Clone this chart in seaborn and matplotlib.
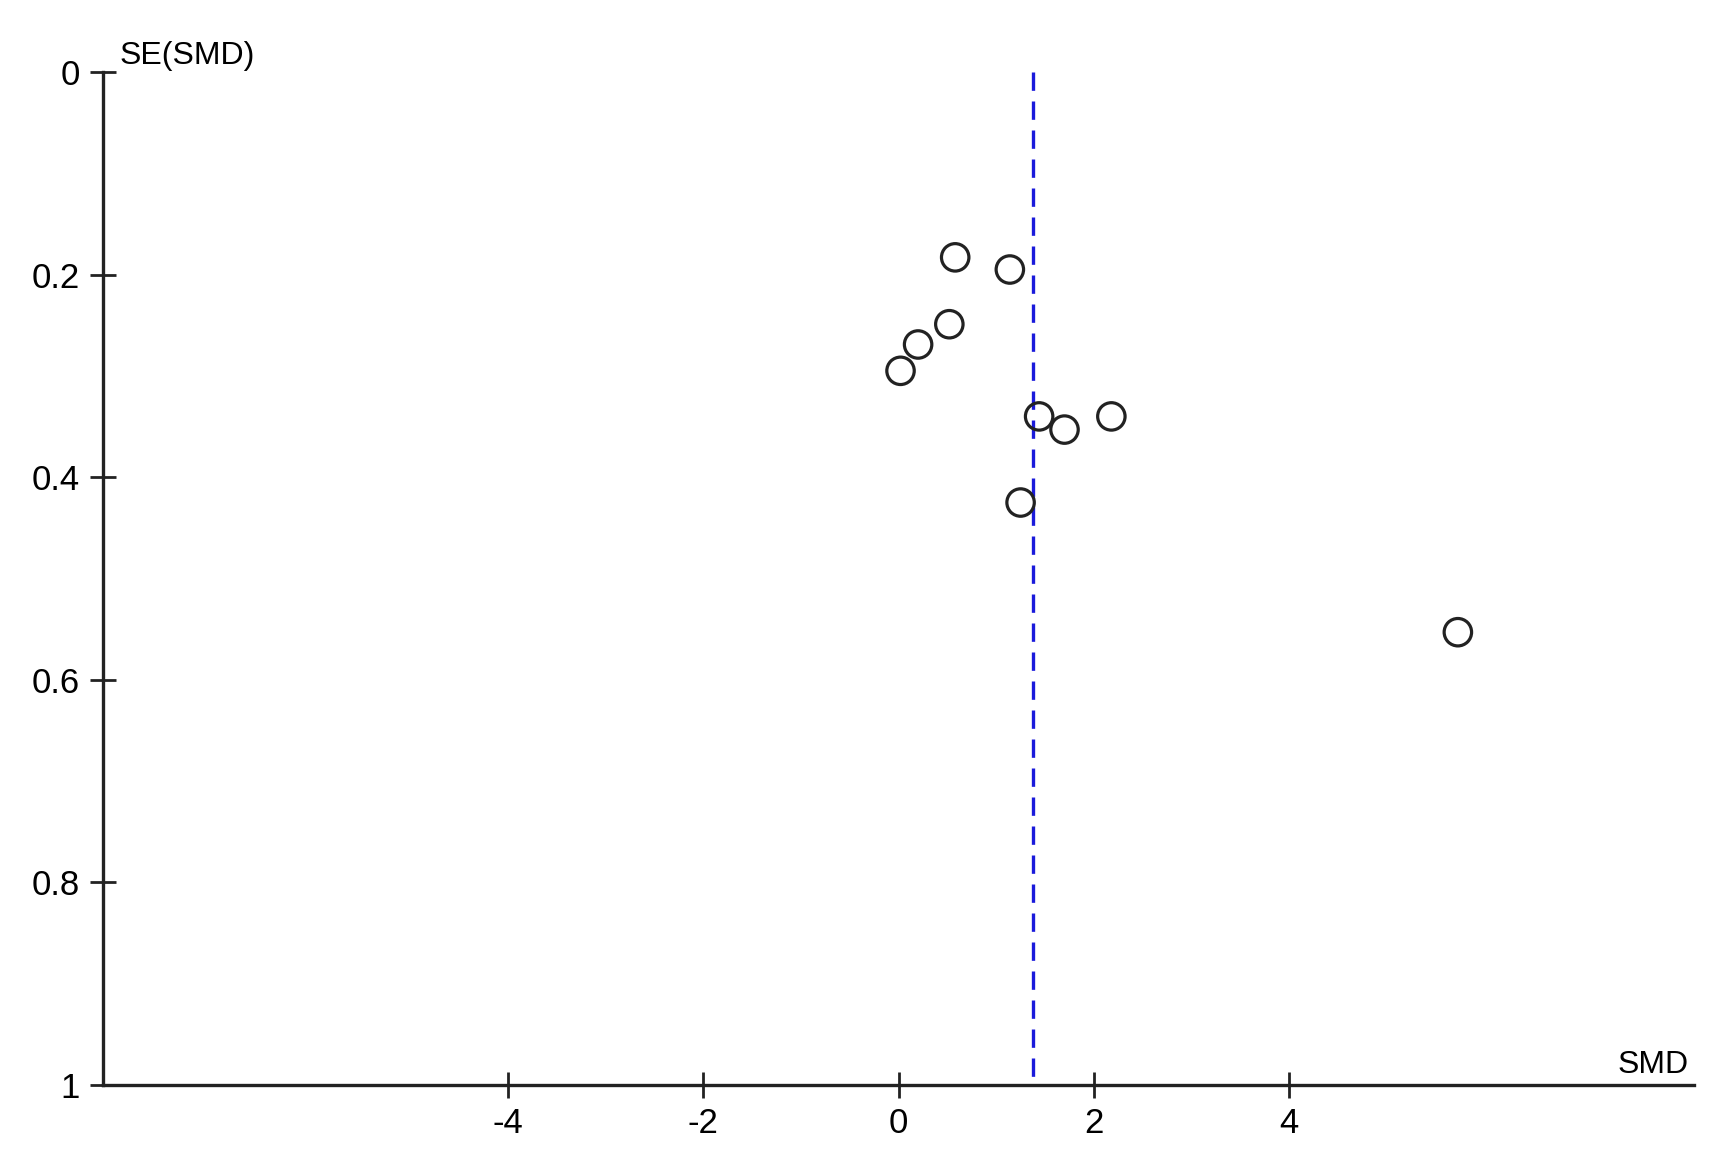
## Funnel plot: SE(SMD) against SMD

import numpy as np
import seaborn as sns
import matplotlib
matplotlib.use("Agg")
import matplotlib.pyplot as plt

# study estimates
smd = [0.58, 1.14, 0.52, 0.20, 0.02, 1.44, 1.70, 2.18, 1.25, 5.73]
se_smd = [0.183, 0.195, 0.249, 0.269, 0.295, 0.340, 0.353, 0.340, 0.425, 0.553]
pooled_smd = 1.38

x_ticks = [-4, -2, 0, 2, 4]
y_ticks = [0, 0.2, 0.4, 0.6, 0.8, 1]
y_tick_labels = ["0", "0.2", "0.4", "0.6", "0.8", "1"]

sns.set_style("white")
plt.rcParams["font.family"] = ["Liberation Sans", "DejaVu Sans"]

fig = plt.figure(figsize=(17.15, 11.70), dpi=100)
ax = fig.add_axes([0.0601, 0.0726, 0.9277, 0.8659])

ink = "#222222"

# pooled estimate
ax.plot([pooled_smd, pooled_smd], [0, 1], color="#1a1adb", lw=2.4,
        dashes=(5.5, 3.2), clip_on=False, zorder=1)

sns.scatterplot(x=smd, y=se_smd, ax=ax, marker="o", s=390,
                facecolor="none", edgecolor=ink, linewidth=2.3,
                zorder=3, clip_on=False)

ax.set_xlim(-8.15, 8.15)
ax.set_ylim(1, 0)

ax.set_xticks(x_ticks)
ax.set_xticklabels([str(t) for t in x_ticks])
ax.set_yticks(y_ticks)
ax.set_yticklabels(y_tick_labels)

for s in ["top", "right"]:
    ax.spines[s].set_visible(False)
for s in ["left", "bottom"]:
    ax.spines[s].set_color(ink)
    ax.spines[s].set_linewidth(2.4)

ax.tick_params(axis="both", which="major", bottom=True, left=True,
               direction="inout", length=19, width=2.0,
               color=ink, labelcolor="black")
ax.tick_params(axis="y", pad=7)
ax.tick_params(axis="x", pad=6)
for label in ax.get_xticklabels() + ax.get_yticklabels():
    label.set_fontsize(25)

ax.annotate("SE(SMD)", xy=(0, 1), xycoords="axes fraction",
            xytext=(12, 6), textcoords="offset points",
            ha="left", va="baseline", fontsize=23, color="black")
ax.annotate("SMD", xy=(1, 0), xycoords="axes fraction",
            xytext=(-4, 9), textcoords="offset points",
            ha="right", va="baseline", fontsize=23, color="black")

ax.grid(False)
fig.savefig("out.png", dpi=100)
